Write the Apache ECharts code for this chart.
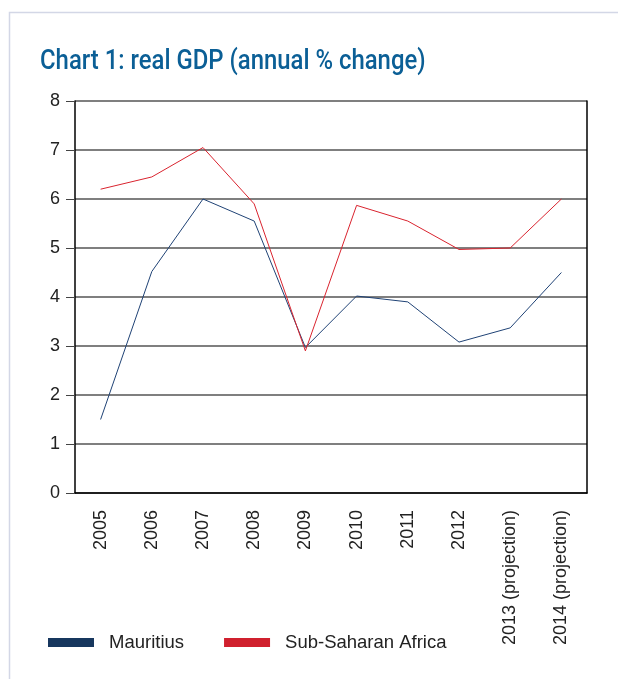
<!DOCTYPE html>
<html>
<head>
<meta charset="utf-8">
<script src="https://cdn.jsdelivr.net/npm/echarts@6/dist/echarts.min.js"></script>
<style>
html, body { margin: 0; padding: 0; background: #fff; }
#chart { width: 618px; height: 679px; }
</style>
</head>
<body>
<div id="chart"></div>
<script>
var years = ['2005', '2006', '2007', '2008', '2009', '2010', '2011', '2012', '2013 (projection)', '2014 (projection)'];
var mauritius = [1.5, 4.52, 6.0, 5.55, 2.97, 4.02, 3.9, 3.08, 3.37, 4.5];
var subSaharan = [6.2, 6.45, 7.05, 5.9, 2.9, 5.87, 5.55, 4.97, 5.0, 6.0];
var yTicks = [0, 8, 1];

var font = '"Liberation Sans", Arial, sans-serif';
var chart = echarts.init(document.getElementById('chart'));

var option = {
    animation: false,
    textStyle: { fontFamily: font },
    color: ['#17375e', '#d0202e'],
    legend: {
        bottom: 27,
        left: 48,
        padding: 0,
        itemWidth: 46,
        itemHeight: 9,
        itemGap: 40,
        icon: 'rect',
        textStyle: { fontSize: 18.5, color: '#222', padding: [0, 0, 0, 10] },
        data: ['Mauritius', 'Sub-Saharan Africa']
    },
    graphic: [{
        type: 'polyline',
        shape: { points: [[9.5, 679], [9.5, 12.5], [618, 12.5]] },
        style: { stroke: '#d3d7e6', lineWidth: 1.5, fill: null }
    }, {
        // titre un peu condensé, comme l'original
        type: 'text',
        x: 40,
        y: 49,
        scaleX: 0.885,
        style: {
            text: 'Chart 1: real GDP (annual % change)',
            font: '500 27px Roboto, "Liberation Sans", sans-serif',
            fill: '#0b5f96',
            verticalAlign: 'top'
        }
    }],
    grid: { left: 75, right: 31, top: 101, bottom: 186 },
    xAxis: {
        type: 'category',
        data: years,
        boundaryGap: true,
        axisLine: { lineStyle: { color: '#000', width: 1.5 } },
        axisTick: { show: false },
        axisLabel: { rotate: 90, margin: 17, fontSize: 18, color: '#222', interval: 0 }
    },
    yAxis: [{
        type: 'value',
        min: yTicks[0],
        max: yTicks[1],
        interval: yTicks[2],
        axisLine: { show: true, lineStyle: { color: '#000', width: 1.5 } },
        axisTick: { show: true, length: 9, lineStyle: { color: '#444' } },
        axisLabel: { fontSize: 18, color: '#222', margin: 15 },
        splitLine: { lineStyle: { color: '#555', width: 1.5 } }
    }, {
        type: 'value',
        position: 'right',
        min: yTicks[0],
        max: yTicks[1],
        interval: yTicks[2],
        axisLine: { show: true, lineStyle: { color: '#000', width: 1.5 } },
        axisTick: { show: false },
        axisLabel: { show: false },
        splitLine: { show: false }
    }],
    series: [{
        name: 'Mauritius',
        type: 'line',
        data: mauritius,
        symbol: 'none',
        lineStyle: { width: 1, color: '#1f4275' }
    }, {
        name: 'Sub-Saharan Africa',
        type: 'line',
        data: subSaharan,
        symbol: 'none',
        lineStyle: { width: 1, color: '#d9232e' }
    }]
};
chart.setOption(option);
</script>
</body>
</html>
